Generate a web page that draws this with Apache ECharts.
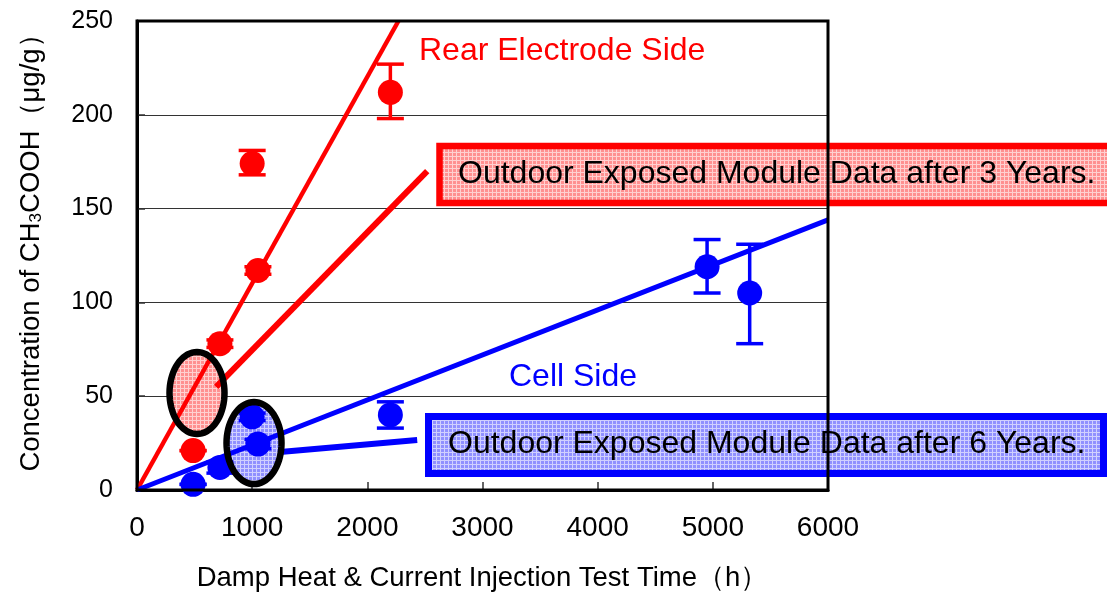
<!DOCTYPE html>
<html>
<head>
<meta charset="utf-8">
<script src="https://cdn.jsdelivr.net/npm/echarts@6/dist/echarts.min.js"></script>
<style>
html,body{margin:0;padding:0;background:#fff;}
#chart{width:1107px;height:597px;}
</style>
</head>
<body>
<div id="chart"></div>
<script>
// ---- data ----
var xTicks = [0, 1000, 2000, 3000, 4000, 5000, 6000];
var yTicks = [0, 50, 100, 150, 200, 250];

// Rear electrode side (red)
var redX    = [487, 720, 1000, 1050, 2200];
var redY    = [21, 78, 174, 117, 212];
var redLow  = [21, 76, 168, 115, 198];
var redHigh = [21, 80, 181, 119, 227];

// Cell side (blue)
var blueX    = [487, 720, 1000, 1050, 2200, 4950, 5320];
var blueY    = [3, 12, 39, 24.5, 40, 119, 105];
var blueLow  = [3, 9, 37, 22, 33, 105, 78];
var blueHigh = [3, 15, 41, 27, 47, 133.5, 131];

// trend lines
var redFitX = [0, 2270];
var redFitY = [0, 250];
var blueFitX = [0, 6000];
var blueFitY = [0, 144];

// connector lines to the outdoor-data callouts
var redOutX = [687, 2520];
var redOutY = [55, 170];
var blueOutX = [1243, 2433];
var blueOutY = [20.3, 26.7];

// outdoor data ellipses (centres)
var redEllipse  = [521, 51.7];
var blueEllipse = [1016, 25];

// texts
var xAxisTitle = 'Damp Heat & Current Injection Test Time（h）';
var yAxisTitle = 'Concentration of CH{sub|3}COOH（μg/g）';
var redLabel = 'Rear Electrode Side';
var blueLabel = 'Cell Side';
var redBoxText = 'Outdoor Exposed Module Data after 3 Years.';
var blueBoxText = 'Outdoor Exposed Module Data after 6 Years.';

// ---- helpers ----
function zip(a, b) { return a.map(function (v, i) { return [v, b[i]]; }); }
function zip3(a, b, c) { return a.map(function (v, i) { return [v, b[i], c[i]]; }); }

function makePattern(base, dot) {
  var c = document.createElement('canvas');
  c.width = 4; c.height = 4;
  var g = c.getContext('2d');
  g.fillStyle = base; g.fillRect(0, 0, 4, 4);
  g.fillStyle = dot;
  g.fillRect(0, 0, 4, 1);
  g.fillRect(0, 0, 1, 4);
  return c;
}
var redPat = makePattern('#ff9090', '#ffd0d0');
var bluePat = makePattern('#9090ff', '#d0d0ff');

function errRender(color) {
  return function (params, api) {
    var x = api.value(0), lo = api.value(1), hi = api.value(2);
    var pLo = api.coord([x, lo]), pHi = api.coord([x, hi]);
    var hw = 13.5;
    var st = { stroke: color, lineWidth: 3.5 };
    return {
      type: 'group',
      children: [
        { type: 'line', shape: { x1: pLo[0], y1: pLo[1], x2: pHi[0], y2: pHi[1] }, style: st },
        { type: 'line', shape: { x1: pLo[0] - hw, y1: pLo[1], x2: pLo[0] + hw, y2: pLo[1] }, style: st },
        { type: 'line', shape: { x1: pHi[0] - hw, y1: pHi[1], x2: pHi[0] + hw, y2: pHi[1] }, style: st }
      ]
    };
  };
}

function ellipseRender(fill, stroke, lw) {
  return function (params, api) {
    var c = api.coord([api.value(0), api.value(1)]);
    var rx = 27.5, ry = 41, pts = [];
    for (var i = 0; i < 72; i++) {
      var t = i / 72 * Math.PI * 2;
      pts.push([c[0] + rx * Math.cos(t), c[1] + ry * Math.sin(t)]);
    }
    return {
      type: 'polygon',
      shape: { points: pts },
      style: { fill: fill, stroke: stroke, lineWidth: lw }
    };
  };
}

var FONT = '"Liberation Sans", Arial, sans-serif';
var chart = echarts.init(document.getElementById('chart'), null, { renderer: 'canvas' });

var option = {
  backgroundColor: '#ffffff',
  animation: false,
  grid: {
    left: 137, right: 279, top: 21, bottom: 107,
    show: true, borderColor: '#000', borderWidth: 3,
    backgroundColor: 'transparent', z: 10
  },
  xAxis: {
    type: 'value', min: xTicks[0], max: xTicks[xTicks.length - 1], interval: 1000,
    axisLine: { show: true, onZero: false, lineStyle: { color: '#000', width: 3 } },
    axisTick: { show: true, inside: true, length: 8, lineStyle: { color: '#333', width: 1.5 } },
    axisLabel: { color: '#000', fontSize: 28, margin: 24, fontFamily: FONT,
      formatter: function (v) { return String(v); } },
    splitLine: { show: false },
    name: xAxisTitle, nameLocation: 'middle', nameGap: 74,
    nameTextStyle: { color: '#000', fontSize: 27.5, fontFamily: FONT }
  },
  yAxis: {
    type: 'value', min: yTicks[0], max: yTicks[yTicks.length - 1], interval: 50,
    axisLine: { show: true, onZero: false, lineStyle: { color: '#000', width: 3 } },
    axisTick: { show: true, inside: true, length: 8, lineStyle: { color: '#333', width: 1.5 } },
    axisLabel: { color: '#000', fontSize: 25, margin: 24, fontFamily: FONT,
      formatter: function (v) { return String(v); } },
    splitLine: { show: true, lineStyle: { color: '#333', width: 1.2 } }
  },
  graphic: [
    { type: 'text', z: 6, x: 31, y: 246, rotation: Math.PI / 2,
      style: { text: yAxisTitle, fill: '#000', fontSize: 27.5, fontFamily: FONT,
        align: 'center', verticalAlign: 'middle',
        rich: { sub: { fontSize: 17, fill: '#000', fontFamily: FONT, verticalAlign: 'bottom' } } } },
    { type: 'rect', z: 5, shape: { x: 439.5, y: 146, width: 680, height: 57 },
      style: { fill: { image: redPat, repeat: 'repeat' }, stroke: '#ff0000', lineWidth: 6.5 } },
    { type: 'text', z: 6, left: 458, top: 158,
      style: { text: redBoxText, fill: '#000', font: '32px ' + FONT } },
    { type: 'rect', z: 5, shape: { x: 428.5, y: 416.5, width: 675, height: 57 },
      style: { fill: { image: bluePat, repeat: 'repeat' }, stroke: '#0000ff', lineWidth: 7 } },
    { type: 'text', z: 6, left: 448, top: 428,
      style: { text: blueBoxText, fill: '#000', font: '32px ' + FONT } },
    { type: 'text', z: 6, left: 419, top: 35,
      style: { text: redLabel, fill: '#ff0000', font: '32px ' + FONT } },
    { type: 'text', z: 6, left: 509, top: 361,
      style: { text: blueLabel, fill: '#0000ff', font: '32px ' + FONT } }
  ],
  series: [
    { type: 'custom', name: 'redEllipseFill', z: 1, clip: false,
      renderItem: ellipseRender({ image: redPat, repeat: 'repeat' }, 'none', 0),
      data: [redEllipse] },
    { type: 'custom', name: 'blueEllipseFill', z: 1, clip: false,
      renderItem: ellipseRender({ image: bluePat, repeat: 'repeat' }, 'none', 0),
      data: [blueEllipse] },
    { type: 'line', name: 'redFit', z: 3, data: zip(redFitX, redFitY), symbol: 'none',
      lineStyle: { color: '#ff0000', width: 4.5 } },
    { type: 'line', name: 'blueFit', z: 3, data: zip(blueFitX, blueFitY), symbol: 'none',
      lineStyle: { color: '#0000ff', width: 5 } },
    { type: 'line', name: 'redOut', z: 3, data: zip(redOutX, redOutY), symbol: 'none',
      lineStyle: { color: '#ff0000', width: 6 } },
    { type: 'line', name: 'blueOut', z: 3, data: zip(blueOutX, blueOutY), symbol: 'none',
      lineStyle: { color: '#0000ff', width: 6 } },
    { type: 'custom', name: 'redErr', z: 4, renderItem: errRender('#ff0000'),
      data: zip3(redX, redLow, redHigh) },
    { type: 'custom', name: 'blueErr', z: 4, renderItem: errRender('#0000ff'),
      data: zip3(blueX, blueLow, blueHigh) },
    { type: 'scatter', name: 'Rear Electrode Side', z: 4, symbol: 'circle', symbolSize: 25,
      itemStyle: { color: '#ff0000', opacity: 1 }, data: zip(redX, redY) },
    { type: 'scatter', name: 'Cell Side', z: 4, symbol: 'circle', symbolSize: 25,
      itemStyle: { color: '#0000ff', opacity: 1 }, data: zip(blueX, blueY) },
    { type: 'custom', name: 'redEllipseRing', z: 4.5, clip: false,
      renderItem: ellipseRender('none', '#000', 6.5), data: [redEllipse] },
    { type: 'custom', name: 'blueEllipseRing', z: 4.5, clip: false,
      renderItem: ellipseRender('none', '#000', 6.5), data: [blueEllipse] }
  ]
};
chart.setOption(option);
</script>
</body>
</html>
